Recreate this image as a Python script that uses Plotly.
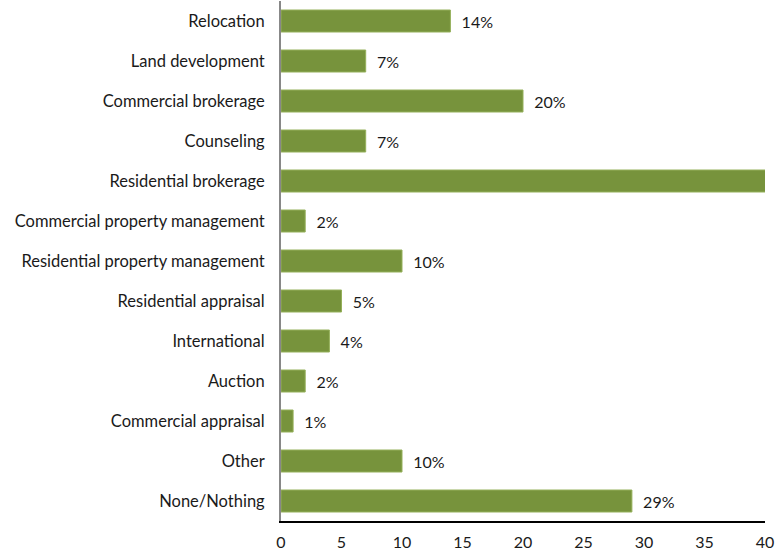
import plotly.graph_objects as go

# Share of members by secondary business specialty (%)
categories = [
    "Relocation",
    "Land development",
    "Commercial brokerage",
    "Counseling",
    "Residential brokerage",
    "Commercial property management",
    "Residential property management",
    "Residential appraisal",
    "International",
    "Auction",
    "Commercial appraisal",
    "Other",
    "None/Nothing",
]
shares = [14, 7, 20, 7, 62, 2, 10, 5, 4, 2, 1, 10, 29]

x_max = 40
x_ticks = [0, 5, 10, 15, 20, 25, 30, 35, 40]

labels = ["  %d%%" % v if v <= x_max else "" for v in shares]

fig = go.Figure(
    go.Bar(
        x=shares,
        y=categories,
        orientation="h",
        marker=dict(color="#77933C", line=dict(color="#95B05A", width=1)),
        text=labels,
        textposition="outside",
        textfont=dict(size=16, color="#1a1a1a"),
        cliponaxis=True,
        width=0.55,
    )
)

fig.update_layout(
    width=780,
    height=556,
    margin=dict(l=281, r=15, t=1, b=35),
    paper_bgcolor="white",
    plot_bgcolor="white",
    font=dict(family="Lato, 'Open Sans', sans-serif", size=16, color="#1a1a1a"),
    showlegend=False,
)

fig.update_xaxes(
    range=[0, x_max],
    tickvals=x_ticks,
    showgrid=False,
    zeroline=False,
    showline=True,
    linecolor="black",
    linewidth=2,
    ticks="",
    ticklabelstandoff=6,
    tickfont=dict(size=16),
)

fig.update_yaxes(
    categoryorder="array",
    categoryarray=categories[::-1],
    showgrid=False,
    zeroline=False,
    showline=True,
    linecolor="#888888",
    linewidth=2,
    ticks="",
    ticklabelstandoff=11,
    tickfont=dict(size=16.5),
)

fig.write_html("out.html")
